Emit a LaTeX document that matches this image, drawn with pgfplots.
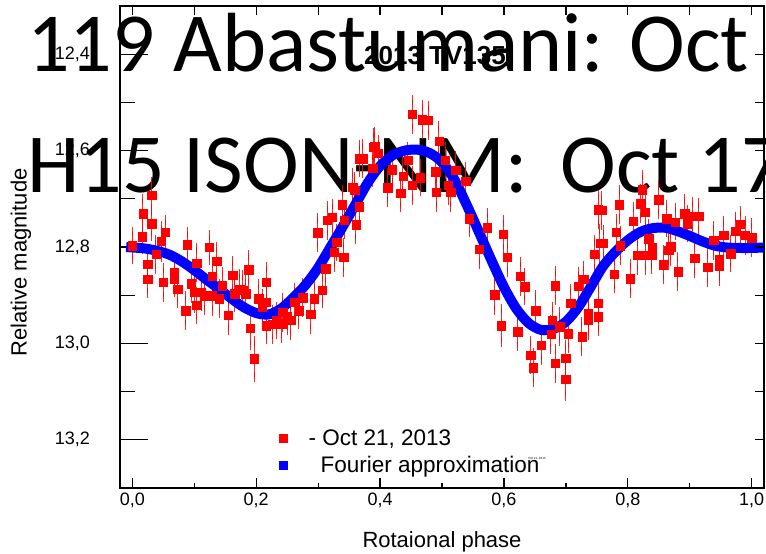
\documentclass[border=0pt]{standalone}
\usepackage{fontspec}
\setmainfont{Liberation Sans}
\newfontfamily\carlito{Carlito}
\usepackage{pgfplots}
\pgfplotsset{compat=1.18}
\usepackage{pgfplotstable}

\pgfplotstableread{
x y e
0.000 12.797 0.028
0.016 12.779 0.025
0.017 12.731 0.030
0.025 12.836 0.030
0.025 12.867 0.028
0.031 12.693 0.028
0.031 12.752 0.026
0.038 12.815 0.030
0.047 12.788 0.032
0.050 12.873 0.030
0.053 12.769 0.026
0.068 12.852 0.030
0.068 12.866 0.028
0.073 12.887 0.030
0.086 12.932 0.030
0.089 12.795 0.026
0.095 12.876 0.030
0.100 12.894 0.032
0.104 12.921 0.028
0.104 12.833 0.030
0.111 12.894 0.028
0.116 12.901 0.030
0.124 12.801 0.026
0.129 12.901 0.032
0.129 12.861 0.028
0.136 12.829 0.030
0.140 12.907 0.030
0.145 12.880 0.028
0.155 12.942 0.030
0.162 12.859 0.030
0.165 12.897 0.028
0.173 12.887 0.030
0.178 12.890 0.032
0.183 12.897 0.028
0.188 12.847 0.030
0.190 12.968 0.035
0.197 13.032 0.037
0.204 12.907 0.030
0.210 12.925 0.028
0.216 12.873 0.032
0.216 12.914 0.030
0.216 12.963 0.028
0.226 12.960 0.030
0.232 12.952 0.028
0.241 12.959 0.030
0.243 12.935 0.030
0.250 12.945 0.028
0.256 12.952 0.030
0.262 12.915 0.030
0.269 12.932 0.028
0.275 12.905 0.030
0.288 12.939 0.032
0.294 12.907 0.030
0.299 12.770 0.030
0.307 12.889 0.028
0.312 12.845 0.030
0.315 12.745 0.030
0.323 12.738 0.028
0.326 12.811 0.030
0.330 12.790 0.028
0.339 12.712 0.030
0.341 12.821 0.030
0.342 12.745 0.028
0.356 12.676 0.030
0.359 12.682 0.028
0.361 12.754 0.030
0.366 12.716 0.030
0.366 12.617 0.028
0.372 12.617 0.030
0.388 12.637 0.028
0.390 12.593 0.030
0.391 12.591 0.030
0.397 12.605 0.028
0.412 12.677 0.030
0.420 12.640 0.028
0.433 12.688 0.030
0.437 12.653 0.030
0.445 12.620 0.028
0.452 12.525 0.030
0.452 12.672 0.030
0.465 12.656 0.028
0.468 12.536 0.030
0.478 12.537 0.030
0.490 12.644 0.028
0.491 12.686 0.030
0.495 12.580 0.032
0.505 12.620 0.028
0.510 12.672 0.030
0.514 12.686 0.030
0.522 12.641 0.030
0.538 12.663 0.030
0.544 12.741 0.028
0.560 12.804 0.032
0.573 12.760 0.030
0.585 12.899 0.032
0.596 12.963 0.035
0.599 12.774 0.030
0.605 12.821 0.030
0.622 12.976 0.030
0.626 12.861 0.030
0.634 12.882 0.028
0.643 13.024 0.030
0.647 13.050 0.030
0.651 12.932 0.032
0.660 13.004 0.030
0.676 12.981 0.030
0.678 12.952 0.028
0.683 12.880 0.030
0.683 13.041 0.030
0.690 12.965 0.030
0.700 13.031 0.028
0.700 13.074 0.035
0.704 12.980 0.030
0.708 12.917 0.030
0.720 12.881 0.030
0.726 12.986 0.030
0.729 12.867 0.028
0.736 12.938 0.030
0.736 12.952 0.030
0.746 12.815 0.030
0.752 12.916 0.032
0.752 12.945 0.030
0.752 12.723 0.030
0.755 12.792 0.030
0.758 12.724 0.030
0.760 12.792 0.028
0.778 12.856 0.030
0.781 12.769 0.028
0.786 12.712 0.030
0.788 12.797 0.030
0.804 12.866 0.030
0.809 12.746 0.028
0.815 12.817 0.030
0.821 12.710 0.030
0.823 12.681 0.030
0.828 12.728 0.028
0.828 12.817 0.030
0.834 12.783 0.030
0.839 12.817 0.028
0.839 12.800 0.030
0.850 12.702 0.030
0.857 12.837 0.030
0.863 12.741 0.028
0.866 12.807 0.030
0.869 12.799 0.030
0.877 12.748 0.028
0.881 12.851 0.030
0.892 12.731 0.030
0.896 12.752 0.028
0.904 12.736 0.030
0.908 12.823 0.030
0.915 12.736 0.028
0.929 12.842 0.030
0.939 12.786 0.030
0.948 12.826 0.028
0.948 12.840 0.030
0.955 12.776 0.030
0.966 12.814 0.028
0.974 12.767 0.030
0.982 12.753 0.028
0.990 12.776 0.030
1.000 12.781 0.030
}\obsdata

\pgfplotstableread{
x y
-0.01 12.800
0.00 12.801
0.02 12.803
0.04 12.808
0.06 12.816
0.08 12.830
0.10 12.848
0.12 12.868
0.14 12.887
0.16 12.907
0.18 12.925
0.20 12.937
0.22 12.940
0.24 12.928
0.26 12.905
0.28 12.878
0.30 12.843
0.32 12.800
0.34 12.757
0.36 12.712
0.38 12.667
0.40 12.632
0.42 12.610
0.44 12.600
0.46 12.598
0.48 12.605
0.50 12.624
0.52 12.660
0.54 12.713
0.56 12.770
0.58 12.828
0.60 12.883
0.62 12.928
0.64 12.958
0.66 12.972
0.68 12.970
0.70 12.955
0.72 12.925
0.74 12.883
0.76 12.840
0.78 12.810
0.80 12.786
0.82 12.769
0.84 12.761
0.86 12.760
0.88 12.767
0.90 12.777
0.92 12.788
0.94 12.797
0.96 12.801
0.98 12.802
1.00 12.802
1.02 12.801
}\fourier

\begin{document}
\begin{tikzpicture}
\useasboundingbox (0,0) rectangle (766bp,554bp);
\node[anchor=base west, inner sep=0pt, font=\carlito\fontsize{84bp}{84bp}\selectfont] at (27bp,482bp) {119 Abastumani: Oct};
\node[anchor=base west, inner sep=0pt, font=\carlito\fontsize{84bp}{84bp}\selectfont] at (27bp,361bp) {H15 ISON-NM:\hspace{14bp} Oct 17};
\begin{axis}[
  at={(120bp,66bp)}, anchor=south west,
  width=644bp, height=482bp, scale only axis,
  xmin=-0.02, xmax=1.02, ymin=12.3, ymax=13.3, y dir=reverse,
  xtick={0,0.2,0.4,0.6,0.8,1.0}, minor xtick={0.1,0.3,0.5,0.7,0.9},
  ytick={12.4,12.6,12.8,13.0,13.2}, minor ytick={12.5,12.7,12.9,13.1},
  tick pos=left, tick align=inside,
  axis line style={line width=1.3bp},
  every tick/.append style={black, line width=1.3bp},
  xtick style={/pgfplots/major tick length=10bp, /pgfplots/minor tick length=5bp},
  ytick style={/pgfplots/major tick length=28bp, /pgfplots/minor tick length=15bp},
  /pgf/number format/.cd, fixed, fixed zerofill, precision=1, use comma, assume math mode=true,
  /pgfplots/.cd,
  ticklabel style={font=\fontsize{18bp}{20bp}\selectfont},
  yticklabel style={inner sep=0pt, xshift=-30bp},
  xticklabel style={inner sep=0pt, yshift=-5bp},
  xlabel={Rotaional phase},
  ylabel={Relative magnitude},
  xlabel style={font=\fontsize{22bp}{24bp}\selectfont, at={(axis description cs:0.5,-0.112)}, anchor=center},
  ylabel style={font=\fontsize{22bp}{24bp}\selectfont, at={(axis description cs:-0.154,0.468)}, anchor=center},
  legend cell align=left,
  legend style={draw=none, fill=none, at={(axis description cs:0.235,0.125)}, anchor=north west,
    font=\fontsize{22.5bp}{24bp}\selectfont, row sep=5bp, inner sep=0pt},
]
\addplot[only marks, mark=square*, mark size=4.2bp, mark options={fill=red, draw=red},
  error bars/.cd, y dir=both, y explicit,
  error bar style={red, line width=1bp, opacity=0.85},
  error mark options={red, line width=1bp, mark size=5bp, opacity=0.85},
  /pgfplots/legend image code/.code={\path[draw=none, fill=none] (-12bp,-5bp) rectangle (23bp,5bp); \fill[red, draw=none] (-4.2bp,-4.2bp) rectangle (4.2bp,4.2bp);},
  ]
  table[x=x, y=y, y error=e]{\obsdata};
\addlegendentry{- Oct 21, 2013}
\addplot[blue, line width=10bp, smooth, mark=none,
  legend image code/.code={\path[draw=none, fill=none] (-12bp,-5bp) rectangle (23bp,5bp); \fill[blue, draw=none] (-4.5bp,-4.5bp) rectangle (4.5bp,4.5bp);}]
  table[x=x, y=y]{\fourier};
\addlegendentry{\hspace*{12bp}Fourier approximation}
\end{axis}
\begin{axis}[
  at={(120bp,66bp)}, anchor=south west,
  width=644bp, height=482bp, scale only axis,
  xmin=-0.02, xmax=1.02, ymin=12.3, ymax=13.3, y dir=reverse,
  xtick={0,0.1,0.2,0.3,0.4,0.5,0.6,0.7,0.8,0.9,1.0},
  ytick={12.4,12.5,12.6,12.7,12.8,12.9,13.0,13.1,13.2},
  xticklabels={}, yticklabels={},
  xtick pos=right, ytick pos=right, tick align=inside,
  axis line style={draw=none},
  major tick length=9bp,
  every tick/.append style={black, line width=1.3bp},
]
\end{axis}
\node[anchor=base, font=\bfseries\fontsize{26bp}{26bp}\selectfont] at (435bp,489bp) {2013 TV135};
\node[font=\fontsize{3bp}{3bp}\selectfont] at (537bp,95bp) {Oct 21, 2013};
\end{tikzpicture}
\end{document}
